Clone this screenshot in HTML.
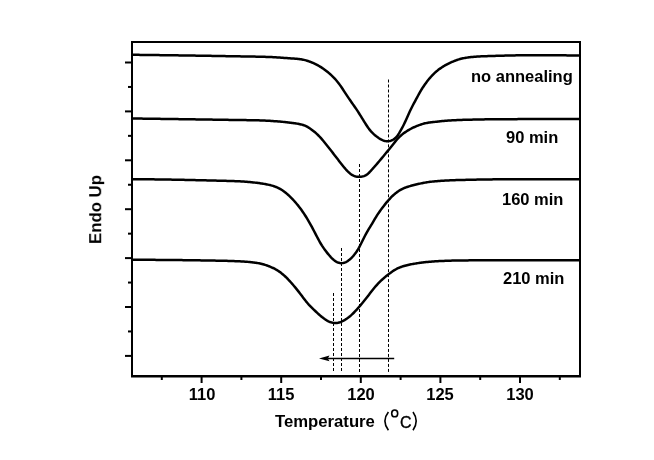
<!DOCTYPE html>
<html><head><meta charset="utf-8"><style>
html,body{margin:0;padding:0;background:#fff;width:654px;height:460px;overflow:hidden}
.lb{position:absolute;font-family:"Liberation Sans",sans-serif;font-weight:bold;font-size:16.5px;line-height:20px;color:#000;white-space:pre;will-change:transform}
svg{position:absolute;left:0;top:0}
</style></head><body>
<svg width="654" height="460" viewBox="0 0 654 460">
<g stroke="#000" stroke-width="1" fill="none" stroke-dasharray="3 2">
<line x1="388.5" y1="79.5" x2="388.5" y2="373" stroke-dasharray="3 1.99"/>
<line x1="359.5" y1="164" x2="359.5" y2="373"/>
<line x1="341.5" y1="248" x2="341.5" y2="373"/>
<line x1="333.5" y1="291" x2="333.5" y2="373" stroke-dashoffset="3"/>
</g>
<line x1="328" y1="358.5" x2="394.2" y2="358.5" stroke="#000" stroke-width="1.3"/>
<path d="M319,358.5 L329.5,355.6 L327.8,358.5 L329.5,361.2 Z" fill="#000"/>
<g stroke="#000" stroke-width="2.5" fill="none" stroke-linejoin="round" stroke-linecap="butt">
<path d="M133.0,54.81 L134.0,54.82 L135.0,54.83 L136.0,54.84 L137.0,54.85 L138.0,54.86 L139.0,54.87 L140.0,54.88 L141.0,54.89 L142.0,54.90 L143.0,54.92 L144.0,54.93 L145.0,54.94 L146.0,54.95 L147.0,54.96 L148.0,54.98 L149.0,54.99 L150.0,55.00 L151.0,55.01 L152.0,55.03 L153.0,55.04 L154.0,55.05 L155.0,55.06 L156.0,55.08 L157.0,55.09 L158.0,55.10 L159.0,55.11 L160.0,55.13 L161.0,55.14 L162.0,55.15 L163.0,55.17 L164.0,55.18 L165.0,55.19 L166.0,55.21 L167.0,55.22 L168.0,55.23 L169.0,55.25 L170.0,55.26 L171.0,55.27 L172.0,55.29 L173.0,55.30 L174.0,55.32 L175.0,55.33 L176.0,55.34 L177.0,55.36 L178.0,55.37 L179.0,55.39 L180.0,55.40 L181.0,55.41 L182.0,55.43 L183.0,55.44 L184.0,55.46 L185.0,55.47 L186.0,55.49 L187.0,55.50 L188.0,55.52 L189.0,55.53 L190.0,55.55 L191.0,55.56 L192.0,55.58 L193.0,55.59 L194.0,55.61 L195.0,55.62 L196.0,55.64 L197.0,55.65 L198.0,55.67 L199.0,55.68 L200.0,55.70 L201.0,55.71 L202.0,55.73 L203.0,55.75 L204.0,55.76 L205.0,55.78 L206.0,55.79 L207.0,55.81 L208.0,55.83 L209.0,55.84 L210.0,55.86 L211.0,55.87 L212.0,55.89 L213.0,55.91 L214.0,55.92 L215.0,55.94 L216.0,55.96 L217.0,55.97 L218.0,55.99 L219.0,56.01 L220.0,56.03 L221.0,56.04 L222.0,56.06 L223.0,56.08 L224.0,56.09 L225.0,56.11 L226.0,56.13 L227.0,56.15 L228.0,56.16 L229.0,56.18 L230.0,56.20 L231.0,56.22 L232.0,56.23 L233.0,56.25 L234.0,56.27 L235.0,56.28 L236.0,56.30 L237.0,56.32 L238.0,56.33 L239.0,56.35 L240.0,56.36 L241.0,56.38 L242.0,56.39 L243.0,56.41 L244.0,56.43 L245.0,56.44 L246.0,56.46 L247.0,56.47 L248.0,56.49 L249.0,56.51 L250.0,56.53 L251.0,56.54 L252.0,56.56 L253.0,56.58 L254.0,56.60 L255.0,56.62 L256.0,56.64 L257.0,56.66 L258.0,56.68 L259.0,56.70 L260.0,56.73 L261.0,56.75 L262.0,56.77 L263.0,56.80 L264.0,56.82 L265.0,56.85 L266.0,56.88 L267.0,56.91 L268.0,56.94 L269.0,56.98 L270.0,57.01 L271.0,57.05 L272.0,57.10 L273.0,57.14 L274.0,57.20 L275.0,57.25 L276.0,57.32 L277.0,57.38 L278.0,57.45 L279.0,57.52 L280.0,57.59 L281.0,57.67 L282.0,57.74 L283.0,57.82 L284.0,57.90 L285.0,57.97 L286.0,58.05 L287.0,58.12 L288.0,58.19 L289.0,58.26 L290.0,58.33 L291.0,58.40 L292.0,58.46 L293.0,58.53 L294.0,58.60 L295.0,58.67 L296.0,58.75 L297.0,58.84 L298.0,58.94 L299.0,59.05 L300.0,59.18 L301.0,59.33 L302.0,59.50 L303.0,59.69 L304.0,59.90 L305.0,60.14 L306.0,60.41 L307.0,60.70 L308.0,61.02 L309.0,61.36 L310.0,61.73 L311.0,62.12 L312.0,62.53 L313.0,62.97 L314.0,63.42 L315.0,63.89 L316.0,64.38 L317.0,64.90 L318.0,65.43 L319.0,65.99 L320.0,66.58 L321.0,67.19 L322.0,67.83 L323.0,68.50 L324.0,69.21 L325.0,69.94 L326.0,70.70 L327.0,71.50 L328.0,72.32 L329.0,73.17 L330.0,74.04 L331.0,74.94 L332.0,75.87 L333.0,76.84 L334.0,77.85 L335.0,78.91 L336.0,80.02 L337.0,81.20 L338.0,82.44 L339.0,83.76 L340.0,85.13 L341.0,86.55 L342.0,88.03 L343.0,89.53 L344.0,91.07 L345.0,92.61 L346.0,94.15 L347.0,95.67 L348.0,97.16 L349.0,98.63 L350.0,100.08 L351.0,101.51 L352.0,102.93 L353.0,104.35 L354.0,105.77 L355.0,107.20 L356.0,108.66 L357.0,110.15 L358.0,111.68 L359.0,113.24 L360.0,114.83 L361.0,116.44 L362.0,118.07 L363.0,119.70 L364.0,121.33 L365.0,122.94 L366.0,124.52 L367.0,126.05 L368.0,127.51 L369.0,128.89 L370.0,130.18 L371.0,131.36 L372.0,132.45 L373.0,133.45 L374.0,134.38 L375.0,135.24 L376.0,136.06 L377.0,136.83 L378.0,137.55 L379.0,138.24 L380.0,138.88 L381.0,139.46 L382.0,139.97 L383.0,140.40 L384.0,140.73 L385.0,140.98 L386.0,141.14 L387.0,141.22 L388.0,141.21 L389.0,141.12 L390.0,140.93 L391.0,140.64 L392.0,140.25 L393.0,139.75 L394.0,139.13 L395.0,138.36 L396.0,137.40 L397.0,136.25 L398.0,134.89 L399.0,133.37 L400.0,131.71 L401.0,129.97 L402.0,128.14 L403.0,126.23 L404.0,124.22 L405.0,122.13 L406.0,119.94 L407.0,117.70 L408.0,115.44 L409.0,113.20 L410.0,111.03 L411.0,108.95 L412.0,106.96 L413.0,105.04 L414.0,103.17 L415.0,101.32 L416.0,99.46 L417.0,97.59 L418.0,95.73 L419.0,93.89 L420.0,92.09 L421.0,90.37 L422.0,88.74 L423.0,87.18 L424.0,85.70 L425.0,84.29 L426.0,82.92 L427.0,81.61 L428.0,80.33 L429.0,79.09 L430.0,77.89 L431.0,76.74 L432.0,75.63 L433.0,74.58 L434.0,73.59 L435.0,72.65 L436.0,71.76 L437.0,70.91 L438.0,70.11 L439.0,69.35 L440.0,68.62 L441.0,67.92 L442.0,67.25 L443.0,66.62 L444.0,66.01 L445.0,65.42 L446.0,64.86 L447.0,64.32 L448.0,63.81 L449.0,63.32 L450.0,62.85 L451.0,62.40 L452.0,61.96 L453.0,61.53 L454.0,61.12 L455.0,60.72 L456.0,60.34 L457.0,59.98 L458.0,59.64 L459.0,59.33 L460.0,59.04 L461.0,58.77 L462.0,58.54 L463.0,58.32 L464.0,58.12 L465.0,57.94 L466.0,57.77 L467.0,57.61 L468.0,57.47 L469.0,57.33 L470.0,57.21 L471.0,57.09 L472.0,56.98 L473.0,56.89 L474.0,56.80 L475.0,56.72 L476.0,56.65 L477.0,56.59 L478.0,56.53 L479.0,56.47 L480.0,56.42 L481.0,56.37 L482.0,56.32 L483.0,56.28 L484.0,56.24 L485.0,56.20 L486.0,56.16 L487.0,56.13 L488.0,56.09 L489.0,56.06 L490.0,56.03 L491.0,56.00 L492.0,55.97 L493.0,55.94 L494.0,55.91 L495.0,55.89 L496.0,55.86 L497.0,55.83 L498.0,55.80 L499.0,55.77 L500.0,55.75 L501.0,55.72 L502.0,55.69 L503.0,55.66 L504.0,55.64 L505.0,55.61 L506.0,55.59 L507.0,55.56 L508.0,55.54 L509.0,55.51 L510.0,55.49 L511.0,55.47 L512.0,55.44 L513.0,55.42 L514.0,55.40 L515.0,55.38 L516.0,55.36 L517.0,55.35 L518.0,55.33 L519.0,55.31 L520.0,55.30 L521.0,55.28 L522.0,55.27 L523.0,55.26 L524.0,55.25 L525.0,55.24 L526.0,55.23 L527.0,55.22 L528.0,55.22 L529.0,55.21 L530.0,55.21 L531.0,55.20 L532.0,55.20 L533.0,55.20 L534.0,55.20 L535.0,55.20 L536.0,55.20 L537.0,55.20 L538.0,55.20 L539.0,55.20 L540.0,55.21 L541.0,55.21 L542.0,55.21 L543.0,55.21 L544.0,55.21 L545.0,55.21 L546.0,55.22 L547.0,55.22 L548.0,55.22 L549.0,55.23 L550.0,55.23 L551.0,55.24 L552.0,55.24 L553.0,55.25 L554.0,55.25 L555.0,55.26 L556.0,55.27 L557.0,55.27 L558.0,55.28 L559.0,55.29 L560.0,55.30 L561.0,55.31 L562.0,55.32 L563.0,55.33 L564.0,55.34 L565.0,55.35 L566.0,55.37 L567.0,55.38 L568.0,55.40 L569.0,55.41 L570.0,55.43 L571.0,55.44 L572.0,55.46 L573.0,55.48 L574.0,55.50 L575.0,55.51 L576.0,55.53 L577.0,55.55 L578.0,55.57 L579.0,55.58"/>
<path d="M133.0,118.51 L134.0,118.52 L135.0,118.53 L136.0,118.54 L137.0,118.55 L138.0,118.57 L139.0,118.58 L140.0,118.59 L141.0,118.61 L142.0,118.62 L143.0,118.63 L144.0,118.65 L145.0,118.66 L146.0,118.67 L147.0,118.69 L148.0,118.70 L149.0,118.71 L150.0,118.73 L151.0,118.74 L152.0,118.75 L153.0,118.77 L154.0,118.78 L155.0,118.79 L156.0,118.81 L157.0,118.82 L158.0,118.84 L159.0,118.85 L160.0,118.86 L161.0,118.88 L162.0,118.89 L163.0,118.91 L164.0,118.92 L165.0,118.93 L166.0,118.95 L167.0,118.96 L168.0,118.98 L169.0,118.99 L170.0,119.00 L171.0,119.02 L172.0,119.03 L173.0,119.05 L174.0,119.06 L175.0,119.08 L176.0,119.09 L177.0,119.10 L178.0,119.12 L179.0,119.13 L180.0,119.15 L181.0,119.16 L182.0,119.18 L183.0,119.19 L184.0,119.21 L185.0,119.22 L186.0,119.24 L187.0,119.25 L188.0,119.26 L189.0,119.28 L190.0,119.29 L191.0,119.31 L192.0,119.32 L193.0,119.34 L194.0,119.35 L195.0,119.37 L196.0,119.38 L197.0,119.40 L198.0,119.41 L199.0,119.43 L200.0,119.44 L201.0,119.46 L202.0,119.47 L203.0,119.49 L204.0,119.50 L205.0,119.52 L206.0,119.53 L207.0,119.55 L208.0,119.56 L209.0,119.58 L210.0,119.59 L211.0,119.61 L212.0,119.62 L213.0,119.64 L214.0,119.65 L215.0,119.67 L216.0,119.68 L217.0,119.70 L218.0,119.72 L219.0,119.73 L220.0,119.75 L221.0,119.76 L222.0,119.78 L223.0,119.79 L224.0,119.81 L225.0,119.82 L226.0,119.84 L227.0,119.85 L228.0,119.87 L229.0,119.88 L230.0,119.90 L231.0,119.91 L232.0,119.93 L233.0,119.94 L234.0,119.96 L235.0,119.97 L236.0,119.98 L237.0,120.00 L238.0,120.01 L239.0,120.02 L240.0,120.04 L241.0,120.05 L242.0,120.06 L243.0,120.08 L244.0,120.09 L245.0,120.10 L246.0,120.12 L247.0,120.13 L248.0,120.15 L249.0,120.16 L250.0,120.18 L251.0,120.20 L252.0,120.21 L253.0,120.23 L254.0,120.25 L255.0,120.27 L256.0,120.29 L257.0,120.31 L258.0,120.34 L259.0,120.36 L260.0,120.39 L261.0,120.42 L262.0,120.46 L263.0,120.49 L264.0,120.53 L265.0,120.58 L266.0,120.63 L267.0,120.68 L268.0,120.74 L269.0,120.80 L270.0,120.86 L271.0,120.92 L272.0,120.99 L273.0,121.06 L274.0,121.14 L275.0,121.21 L276.0,121.29 L277.0,121.36 L278.0,121.44 L279.0,121.53 L280.0,121.61 L281.0,121.70 L282.0,121.79 L283.0,121.88 L284.0,121.99 L285.0,122.09 L286.0,122.20 L287.0,122.31 L288.0,122.43 L289.0,122.55 L290.0,122.68 L291.0,122.80 L292.0,122.93 L293.0,123.06 L294.0,123.20 L295.0,123.34 L296.0,123.48 L297.0,123.64 L298.0,123.80 L299.0,123.98 L300.0,124.18 L301.0,124.41 L302.0,124.66 L303.0,124.95 L304.0,125.29 L305.0,125.68 L306.0,126.13 L307.0,126.64 L308.0,127.20 L309.0,127.81 L310.0,128.47 L311.0,129.16 L312.0,129.89 L313.0,130.66 L314.0,131.45 L315.0,132.28 L316.0,133.14 L317.0,134.05 L318.0,135.00 L319.0,136.01 L320.0,137.08 L321.0,138.19 L322.0,139.35 L323.0,140.54 L324.0,141.76 L325.0,142.99 L326.0,144.24 L327.0,145.49 L328.0,146.75 L329.0,148.01 L330.0,149.27 L331.0,150.54 L332.0,151.82 L333.0,153.11 L334.0,154.40 L335.0,155.70 L336.0,157.00 L337.0,158.30 L338.0,159.61 L339.0,160.91 L340.0,162.21 L341.0,163.50 L342.0,164.78 L343.0,166.03 L344.0,167.24 L345.0,168.41 L346.0,169.53 L347.0,170.59 L348.0,171.61 L349.0,172.55 L350.0,173.43 L351.0,174.21 L352.0,174.88 L353.0,175.44 L354.0,175.88 L355.0,176.22 L356.0,176.47 L357.0,176.65 L358.0,176.76 L359.0,176.81 L360.0,176.80 L361.0,176.73 L362.0,176.59 L363.0,176.39 L364.0,176.09 L365.0,175.68 L366.0,175.15 L367.0,174.48 L368.0,173.67 L369.0,172.75 L370.0,171.73 L371.0,170.65 L372.0,169.53 L373.0,168.40 L374.0,167.27 L375.0,166.13 L376.0,164.98 L377.0,163.83 L378.0,162.66 L379.0,161.48 L380.0,160.30 L381.0,159.11 L382.0,157.91 L383.0,156.71 L384.0,155.50 L385.0,154.30 L386.0,153.08 L387.0,151.87 L388.0,150.66 L389.0,149.44 L390.0,148.22 L391.0,146.98 L392.0,145.73 L393.0,144.45 L394.0,143.16 L395.0,141.88 L396.0,140.63 L397.0,139.44 L398.0,138.33 L399.0,137.31 L400.0,136.36 L401.0,135.47 L402.0,134.64 L403.0,133.85 L404.0,133.10 L405.0,132.38 L406.0,131.69 L407.0,131.04 L408.0,130.42 L409.0,129.83 L410.0,129.27 L411.0,128.73 L412.0,128.21 L413.0,127.72 L414.0,127.24 L415.0,126.79 L416.0,126.36 L417.0,125.95 L418.0,125.56 L419.0,125.19 L420.0,124.82 L421.0,124.48 L422.0,124.15 L423.0,123.84 L424.0,123.57 L425.0,123.32 L426.0,123.11 L427.0,122.92 L428.0,122.76 L429.0,122.61 L430.0,122.47 L431.0,122.35 L432.0,122.23 L433.0,122.11 L434.0,121.99 L435.0,121.87 L436.0,121.76 L437.0,121.64 L438.0,121.53 L439.0,121.42 L440.0,121.31 L441.0,121.21 L442.0,121.11 L443.0,121.01 L444.0,120.91 L445.0,120.82 L446.0,120.74 L447.0,120.66 L448.0,120.58 L449.0,120.51 L450.0,120.45 L451.0,120.39 L452.0,120.33 L453.0,120.28 L454.0,120.23 L455.0,120.18 L456.0,120.14 L457.0,120.09 L458.0,120.05 L459.0,120.01 L460.0,119.97 L461.0,119.94 L462.0,119.90 L463.0,119.87 L464.0,119.84 L465.0,119.81 L466.0,119.78 L467.0,119.75 L468.0,119.73 L469.0,119.70 L470.0,119.68 L471.0,119.65 L472.0,119.63 L473.0,119.61 L474.0,119.58 L475.0,119.56 L476.0,119.54 L477.0,119.52 L478.0,119.50 L479.0,119.48 L480.0,119.46 L481.0,119.44 L482.0,119.42 L483.0,119.40 L484.0,119.39 L485.0,119.37 L486.0,119.35 L487.0,119.34 L488.0,119.32 L489.0,119.31 L490.0,119.30 L491.0,119.28 L492.0,119.27 L493.0,119.26 L494.0,119.25 L495.0,119.24 L496.0,119.23 L497.0,119.22 L498.0,119.21 L499.0,119.21 L500.0,119.20 L501.0,119.20 L502.0,119.19 L503.0,119.19 L504.0,119.18 L505.0,119.18 L506.0,119.17 L507.0,119.17 L508.0,119.16 L509.0,119.16 L510.0,119.15 L511.0,119.15 L512.0,119.15 L513.0,119.14 L514.0,119.14 L515.0,119.13 L516.0,119.13 L517.0,119.13 L518.0,119.12 L519.0,119.12 L520.0,119.11 L521.0,119.11 L522.0,119.11 L523.0,119.10 L524.0,119.10 L525.0,119.10 L526.0,119.09 L527.0,119.09 L528.0,119.09 L529.0,119.08 L530.0,119.08 L531.0,119.08 L532.0,119.07 L533.0,119.07 L534.0,119.07 L535.0,119.06 L536.0,119.06 L537.0,119.06 L538.0,119.06 L539.0,119.05 L540.0,119.05 L541.0,119.05 L542.0,119.05 L543.0,119.04 L544.0,119.04 L545.0,119.04 L546.0,119.04 L547.0,119.03 L548.0,119.03 L549.0,119.03 L550.0,119.03 L551.0,119.03 L552.0,119.02 L553.0,119.02 L554.0,119.02 L555.0,119.02 L556.0,119.02 L557.0,119.02 L558.0,119.02 L559.0,119.01 L560.0,119.01 L561.0,119.01 L562.0,119.01 L563.0,119.01 L564.0,119.01 L565.0,119.01 L566.0,119.01 L567.0,119.01 L568.0,119.00 L569.0,119.00 L570.0,119.00 L571.0,119.00 L572.0,119.00 L573.0,119.00 L574.0,119.00 L575.0,119.00 L576.0,119.00 L577.0,119.00 L578.0,119.00 L579.0,119.00"/>
<path d="M133.0,179.20 L134.0,179.21 L135.0,179.21 L136.0,179.21 L137.0,179.22 L138.0,179.22 L139.0,179.23 L140.0,179.24 L141.0,179.24 L142.0,179.25 L143.0,179.26 L144.0,179.26 L145.0,179.27 L146.0,179.28 L147.0,179.29 L148.0,179.30 L149.0,179.31 L150.0,179.32 L151.0,179.33 L152.0,179.34 L153.0,179.35 L154.0,179.37 L155.0,179.38 L156.0,179.39 L157.0,179.40 L158.0,179.42 L159.0,179.43 L160.0,179.44 L161.0,179.46 L162.0,179.47 L163.0,179.49 L164.0,179.50 L165.0,179.52 L166.0,179.53 L167.0,179.55 L168.0,179.57 L169.0,179.58 L170.0,179.60 L171.0,179.62 L172.0,179.63 L173.0,179.65 L174.0,179.67 L175.0,179.69 L176.0,179.71 L177.0,179.73 L178.0,179.75 L179.0,179.77 L180.0,179.78 L181.0,179.80 L182.0,179.82 L183.0,179.84 L184.0,179.87 L185.0,179.89 L186.0,179.91 L187.0,179.93 L188.0,179.95 L189.0,179.97 L190.0,179.99 L191.0,180.01 L192.0,180.04 L193.0,180.06 L194.0,180.08 L195.0,180.10 L196.0,180.13 L197.0,180.15 L198.0,180.17 L199.0,180.19 L200.0,180.22 L201.0,180.24 L202.0,180.26 L203.0,180.29 L204.0,180.31 L205.0,180.33 L206.0,180.36 L207.0,180.38 L208.0,180.41 L209.0,180.43 L210.0,180.46 L211.0,180.48 L212.0,180.50 L213.0,180.53 L214.0,180.55 L215.0,180.58 L216.0,180.60 L217.0,180.63 L218.0,180.65 L219.0,180.68 L220.0,180.70 L221.0,180.73 L222.0,180.75 L223.0,180.78 L224.0,180.80 L225.0,180.83 L226.0,180.86 L227.0,180.89 L228.0,180.91 L229.0,180.94 L230.0,180.98 L231.0,181.01 L232.0,181.04 L233.0,181.08 L234.0,181.11 L235.0,181.15 L236.0,181.19 L237.0,181.23 L238.0,181.27 L239.0,181.32 L240.0,181.36 L241.0,181.41 L242.0,181.46 L243.0,181.52 L244.0,181.58 L245.0,181.65 L246.0,181.72 L247.0,181.80 L248.0,181.89 L249.0,181.98 L250.0,182.08 L251.0,182.18 L252.0,182.29 L253.0,182.40 L254.0,182.51 L255.0,182.62 L256.0,182.74 L257.0,182.86 L258.0,182.99 L259.0,183.11 L260.0,183.25 L261.0,183.39 L262.0,183.54 L263.0,183.69 L264.0,183.86 L265.0,184.03 L266.0,184.22 L267.0,184.42 L268.0,184.63 L269.0,184.85 L270.0,185.09 L271.0,185.34 L272.0,185.61 L273.0,185.91 L274.0,186.23 L275.0,186.58 L276.0,186.96 L277.0,187.38 L278.0,187.84 L279.0,188.34 L280.0,188.87 L281.0,189.44 L282.0,190.06 L283.0,190.72 L284.0,191.42 L285.0,192.18 L286.0,192.98 L287.0,193.83 L288.0,194.71 L289.0,195.64 L290.0,196.60 L291.0,197.58 L292.0,198.60 L293.0,199.65 L294.0,200.73 L295.0,201.84 L296.0,202.99 L297.0,204.18 L298.0,205.41 L299.0,206.68 L300.0,207.99 L301.0,209.34 L302.0,210.74 L303.0,212.18 L304.0,213.67 L305.0,215.20 L306.0,216.78 L307.0,218.40 L308.0,220.07 L309.0,221.79 L310.0,223.56 L311.0,225.37 L312.0,227.21 L313.0,229.09 L314.0,230.98 L315.0,232.90 L316.0,234.82 L317.0,236.75 L318.0,238.65 L319.0,240.50 L320.0,242.29 L321.0,244.00 L322.0,245.62 L323.0,247.14 L324.0,248.59 L325.0,249.98 L326.0,251.32 L327.0,252.61 L328.0,253.85 L329.0,255.05 L330.0,256.20 L331.0,257.29 L332.0,258.31 L333.0,259.27 L334.0,260.13 L335.0,260.90 L336.0,261.57 L337.0,262.11 L338.0,262.53 L339.0,262.84 L340.0,263.04 L341.0,263.14 L342.0,263.12 L343.0,263.00 L344.0,262.78 L345.0,262.46 L346.0,262.03 L347.0,261.50 L348.0,260.86 L349.0,260.12 L350.0,259.27 L351.0,258.34 L352.0,257.33 L353.0,256.24 L354.0,255.07 L355.0,253.81 L356.0,252.44 L357.0,250.96 L358.0,249.35 L359.0,247.61 L360.0,245.75 L361.0,243.79 L362.0,241.77 L363.0,239.73 L364.0,237.71 L365.0,235.74 L366.0,233.85 L367.0,232.05 L368.0,230.33 L369.0,228.68 L370.0,227.07 L371.0,225.45 L372.0,223.81 L373.0,222.12 L374.0,220.41 L375.0,218.70 L376.0,217.03 L377.0,215.43 L378.0,213.90 L379.0,212.43 L380.0,211.02 L381.0,209.64 L382.0,208.29 L383.0,206.96 L384.0,205.64 L385.0,204.36 L386.0,203.11 L387.0,201.90 L388.0,200.73 L389.0,199.61 L390.0,198.53 L391.0,197.48 L392.0,196.48 L393.0,195.51 L394.0,194.59 L395.0,193.71 L396.0,192.89 L397.0,192.13 L398.0,191.43 L399.0,190.77 L400.0,190.16 L401.0,189.60 L402.0,189.09 L403.0,188.61 L404.0,188.17 L405.0,187.76 L406.0,187.39 L407.0,187.03 L408.0,186.70 L409.0,186.39 L410.0,186.10 L411.0,185.81 L412.0,185.54 L413.0,185.28 L414.0,185.03 L415.0,184.78 L416.0,184.54 L417.0,184.30 L418.0,184.07 L419.0,183.84 L420.0,183.62 L421.0,183.40 L422.0,183.19 L423.0,182.99 L424.0,182.79 L425.0,182.61 L426.0,182.44 L427.0,182.28 L428.0,182.13 L429.0,181.99 L430.0,181.86 L431.0,181.74 L432.0,181.62 L433.0,181.51 L434.0,181.41 L435.0,181.31 L436.0,181.22 L437.0,181.14 L438.0,181.06 L439.0,180.98 L440.0,180.91 L441.0,180.85 L442.0,180.78 L443.0,180.72 L444.0,180.66 L445.0,180.61 L446.0,180.55 L447.0,180.50 L448.0,180.45 L449.0,180.40 L450.0,180.36 L451.0,180.31 L452.0,180.27 L453.0,180.23 L454.0,180.19 L455.0,180.16 L456.0,180.12 L457.0,180.09 L458.0,180.06 L459.0,180.03 L460.0,180.00 L461.0,179.98 L462.0,179.95 L463.0,179.93 L464.0,179.90 L465.0,179.88 L466.0,179.86 L467.0,179.83 L468.0,179.81 L469.0,179.79 L470.0,179.77 L471.0,179.75 L472.0,179.72 L473.0,179.70 L474.0,179.68 L475.0,179.66 L476.0,179.64 L477.0,179.62 L478.0,179.60 L479.0,179.58 L480.0,179.56 L481.0,179.55 L482.0,179.53 L483.0,179.51 L484.0,179.50 L485.0,179.48 L486.0,179.46 L487.0,179.45 L488.0,179.44 L489.0,179.42 L490.0,179.41 L491.0,179.40 L492.0,179.39 L493.0,179.37 L494.0,179.36 L495.0,179.35 L496.0,179.35 L497.0,179.34 L498.0,179.33 L499.0,179.32 L500.0,179.32 L501.0,179.31 L502.0,179.31 L503.0,179.31 L504.0,179.30 L505.0,179.30 L506.0,179.30 L507.0,179.30 L508.0,179.30 L509.0,179.30 L510.0,179.30 L511.0,179.30 L512.0,179.30 L513.0,179.30 L514.0,179.30 L515.0,179.30 L516.0,179.30 L517.0,179.30 L518.0,179.30 L519.0,179.30 L520.0,179.30 L521.0,179.30 L522.0,179.30 L523.0,179.30 L524.0,179.30 L525.0,179.30 L526.0,179.30 L527.0,179.30 L528.0,179.30 L529.0,179.30 L530.0,179.30 L531.0,179.30 L532.0,179.30 L533.0,179.30 L534.0,179.30 L535.0,179.30 L536.0,179.30 L537.0,179.30 L538.0,179.30 L539.0,179.30 L540.0,179.30 L541.0,179.30 L542.0,179.30 L543.0,179.30 L544.0,179.30 L545.0,179.30 L546.0,179.30 L547.0,179.30 L548.0,179.30 L549.0,179.30 L550.0,179.30 L551.0,179.30 L552.0,179.30 L553.0,179.30 L554.0,179.30 L555.0,179.30 L556.0,179.30 L557.0,179.30 L558.0,179.30 L559.0,179.30 L560.0,179.30 L561.0,179.30 L562.0,179.30 L563.0,179.30 L564.0,179.30 L565.0,179.30 L566.0,179.30 L567.0,179.30 L568.0,179.30 L569.0,179.30 L570.0,179.30 L571.0,179.30 L572.0,179.30 L573.0,179.30 L574.0,179.30 L575.0,179.30 L576.0,179.30 L577.0,179.30 L578.0,179.30 L579.0,179.30"/>
<path d="M133.0,259.80 L134.0,259.80 L135.0,259.80 L136.0,259.80 L137.0,259.80 L138.0,259.80 L139.0,259.81 L140.0,259.81 L141.0,259.81 L142.0,259.81 L143.0,259.82 L144.0,259.82 L145.0,259.82 L146.0,259.83 L147.0,259.83 L148.0,259.83 L149.0,259.84 L150.0,259.84 L151.0,259.85 L152.0,259.85 L153.0,259.86 L154.0,259.86 L155.0,259.87 L156.0,259.88 L157.0,259.88 L158.0,259.89 L159.0,259.90 L160.0,259.90 L161.0,259.91 L162.0,259.92 L163.0,259.93 L164.0,259.94 L165.0,259.94 L166.0,259.95 L167.0,259.96 L168.0,259.97 L169.0,259.98 L170.0,259.99 L171.0,260.00 L172.0,260.01 L173.0,260.02 L174.0,260.03 L175.0,260.04 L176.0,260.05 L177.0,260.06 L178.0,260.07 L179.0,260.08 L180.0,260.10 L181.0,260.11 L182.0,260.12 L183.0,260.13 L184.0,260.15 L185.0,260.16 L186.0,260.17 L187.0,260.18 L188.0,260.20 L189.0,260.21 L190.0,260.22 L191.0,260.24 L192.0,260.25 L193.0,260.27 L194.0,260.28 L195.0,260.29 L196.0,260.31 L197.0,260.32 L198.0,260.34 L199.0,260.35 L200.0,260.37 L201.0,260.38 L202.0,260.40 L203.0,260.41 L204.0,260.43 L205.0,260.45 L206.0,260.46 L207.0,260.48 L208.0,260.49 L209.0,260.51 L210.0,260.53 L211.0,260.54 L212.0,260.56 L213.0,260.58 L214.0,260.60 L215.0,260.61 L216.0,260.63 L217.0,260.65 L218.0,260.67 L219.0,260.68 L220.0,260.70 L221.0,260.72 L222.0,260.74 L223.0,260.76 L224.0,260.79 L225.0,260.81 L226.0,260.84 L227.0,260.86 L228.0,260.89 L229.0,260.92 L230.0,260.95 L231.0,260.98 L232.0,261.02 L233.0,261.06 L234.0,261.09 L235.0,261.13 L236.0,261.17 L237.0,261.22 L238.0,261.26 L239.0,261.31 L240.0,261.36 L241.0,261.41 L242.0,261.46 L243.0,261.52 L244.0,261.58 L245.0,261.65 L246.0,261.72 L247.0,261.79 L248.0,261.88 L249.0,261.97 L250.0,262.07 L251.0,262.17 L252.0,262.28 L253.0,262.40 L254.0,262.52 L255.0,262.65 L256.0,262.79 L257.0,262.94 L258.0,263.11 L259.0,263.28 L260.0,263.48 L261.0,263.70 L262.0,263.94 L263.0,264.21 L264.0,264.51 L265.0,264.83 L266.0,265.18 L267.0,265.53 L268.0,265.91 L269.0,266.29 L270.0,266.69 L271.0,267.11 L272.0,267.54 L273.0,267.99 L274.0,268.47 L275.0,268.98 L276.0,269.53 L277.0,270.11 L278.0,270.74 L279.0,271.41 L280.0,272.12 L281.0,272.87 L282.0,273.67 L283.0,274.50 L284.0,275.37 L285.0,276.28 L286.0,277.23 L287.0,278.23 L288.0,279.25 L289.0,280.32 L290.0,281.41 L291.0,282.52 L292.0,283.65 L293.0,284.80 L294.0,285.97 L295.0,287.16 L296.0,288.37 L297.0,289.60 L298.0,290.85 L299.0,292.12 L300.0,293.42 L301.0,294.75 L302.0,296.09 L303.0,297.43 L304.0,298.77 L305.0,300.07 L306.0,301.34 L307.0,302.55 L308.0,303.71 L309.0,304.82 L310.0,305.88 L311.0,306.91 L312.0,307.90 L313.0,308.87 L314.0,309.83 L315.0,310.78 L316.0,311.73 L317.0,312.66 L318.0,313.57 L319.0,314.47 L320.0,315.34 L321.0,316.19 L322.0,317.01 L323.0,317.79 L324.0,318.55 L325.0,319.26 L326.0,319.93 L327.0,320.55 L328.0,321.10 L329.0,321.57 L330.0,321.97 L331.0,322.30 L332.0,322.56 L333.0,322.77 L334.0,322.92 L335.0,323.01 L336.0,323.03 L337.0,322.97 L338.0,322.82 L339.0,322.59 L340.0,322.27 L341.0,321.88 L342.0,321.43 L343.0,320.93 L344.0,320.38 L345.0,319.80 L346.0,319.17 L347.0,318.50 L348.0,317.78 L349.0,317.01 L350.0,316.19 L351.0,315.33 L352.0,314.43 L353.0,313.48 L354.0,312.49 L355.0,311.46 L356.0,310.39 L357.0,309.29 L358.0,308.16 L359.0,307.01 L360.0,305.83 L361.0,304.65 L362.0,303.45 L363.0,302.23 L364.0,301.00 L365.0,299.76 L366.0,298.50 L367.0,297.23 L368.0,295.95 L369.0,294.66 L370.0,293.36 L371.0,292.06 L372.0,290.77 L373.0,289.50 L374.0,288.26 L375.0,287.06 L376.0,285.90 L377.0,284.79 L378.0,283.71 L379.0,282.68 L380.0,281.68 L381.0,280.71 L382.0,279.77 L383.0,278.85 L384.0,277.96 L385.0,277.10 L386.0,276.26 L387.0,275.44 L388.0,274.65 L389.0,273.88 L390.0,273.14 L391.0,272.42 L392.0,271.73 L393.0,271.06 L394.0,270.41 L395.0,269.80 L396.0,269.23 L397.0,268.70 L398.0,268.22 L399.0,267.77 L400.0,267.37 L401.0,266.99 L402.0,266.64 L403.0,266.31 L404.0,266.01 L405.0,265.72 L406.0,265.45 L407.0,265.20 L408.0,264.96 L409.0,264.74 L410.0,264.53 L411.0,264.33 L412.0,264.14 L413.0,263.96 L414.0,263.78 L415.0,263.61 L416.0,263.44 L417.0,263.28 L418.0,263.13 L419.0,262.98 L420.0,262.83 L421.0,262.69 L422.0,262.56 L423.0,262.43 L424.0,262.31 L425.0,262.20 L426.0,262.09 L427.0,261.98 L428.0,261.89 L429.0,261.80 L430.0,261.71 L431.0,261.64 L432.0,261.56 L433.0,261.49 L434.0,261.42 L435.0,261.36 L436.0,261.30 L437.0,261.24 L438.0,261.18 L439.0,261.12 L440.0,261.07 L441.0,261.02 L442.0,260.97 L443.0,260.92 L444.0,260.88 L445.0,260.83 L446.0,260.80 L447.0,260.76 L448.0,260.73 L449.0,260.70 L450.0,260.67 L451.0,260.64 L452.0,260.62 L453.0,260.60 L454.0,260.58 L455.0,260.56 L456.0,260.54 L457.0,260.53 L458.0,260.51 L459.0,260.49 L460.0,260.48 L461.0,260.46 L462.0,260.45 L463.0,260.44 L464.0,260.42 L465.0,260.41 L466.0,260.40 L467.0,260.39 L468.0,260.38 L469.0,260.37 L470.0,260.36 L471.0,260.35 L472.0,260.34 L473.0,260.34 L474.0,260.33 L475.0,260.32 L476.0,260.32 L477.0,260.31 L478.0,260.31 L479.0,260.30 L480.0,260.30 L481.0,260.30 L482.0,260.30 L483.0,260.29 L484.0,260.29 L485.0,260.29 L486.0,260.29 L487.0,260.29 L488.0,260.28 L489.0,260.28 L490.0,260.28 L491.0,260.28 L492.0,260.28 L493.0,260.27 L494.0,260.27 L495.0,260.27 L496.0,260.27 L497.0,260.27 L498.0,260.26 L499.0,260.26 L500.0,260.26 L501.0,260.26 L502.0,260.26 L503.0,260.26 L504.0,260.26 L505.0,260.25 L506.0,260.25 L507.0,260.25 L508.0,260.25 L509.0,260.25 L510.0,260.25 L511.0,260.24 L512.0,260.24 L513.0,260.24 L514.0,260.24 L515.0,260.24 L516.0,260.24 L517.0,260.24 L518.0,260.24 L519.0,260.23 L520.0,260.23 L521.0,260.23 L522.0,260.23 L523.0,260.23 L524.0,260.23 L525.0,260.23 L526.0,260.23 L527.0,260.23 L528.0,260.22 L529.0,260.22 L530.0,260.22 L531.0,260.22 L532.0,260.22 L533.0,260.22 L534.0,260.22 L535.0,260.22 L536.0,260.22 L537.0,260.22 L538.0,260.22 L539.0,260.21 L540.0,260.21 L541.0,260.21 L542.0,260.21 L543.0,260.21 L544.0,260.21 L545.0,260.21 L546.0,260.21 L547.0,260.21 L548.0,260.21 L549.0,260.21 L550.0,260.21 L551.0,260.21 L552.0,260.21 L553.0,260.21 L554.0,260.21 L555.0,260.21 L556.0,260.20 L557.0,260.20 L558.0,260.20 L559.0,260.20 L560.0,260.20 L561.0,260.20 L562.0,260.20 L563.0,260.20 L564.0,260.20 L565.0,260.20 L566.0,260.20 L567.0,260.20 L568.0,260.20 L569.0,260.20 L570.0,260.20 L571.0,260.20 L572.0,260.20 L573.0,260.20 L574.0,260.20 L575.0,260.20 L576.0,260.20 L577.0,260.20 L578.0,260.20 L579.0,260.20"/>
</g>
<rect x="132" y="42" width="448" height="334" stroke="#000" stroke-width="2" fill="none"/><line x1="131" y1="376.3" x2="581" y2="376.3" stroke="#000" stroke-width="2.4"/>
<g stroke="#000" stroke-width="2"><line x1="125" y1="62.50" x2="133" y2="62.50"/><line x1="128" y1="86.95" x2="133" y2="86.95"/><line x1="125" y1="111.40" x2="133" y2="111.40"/><line x1="128" y1="135.85" x2="133" y2="135.85"/><line x1="125" y1="160.30" x2="133" y2="160.30"/><line x1="128" y1="184.75" x2="133" y2="184.75"/><line x1="125" y1="209.20" x2="133" y2="209.20"/><line x1="128" y1="233.65" x2="133" y2="233.65"/><line x1="125" y1="258.10" x2="133" y2="258.10"/><line x1="128" y1="282.55" x2="133" y2="282.55"/><line x1="125" y1="307.00" x2="133" y2="307.00"/><line x1="128" y1="331.45" x2="133" y2="331.45"/><line x1="125" y1="355.90" x2="133" y2="355.90"/><line x1="161.80" y1="375" x2="161.80" y2="380"/><line x1="201.60" y1="375" x2="201.60" y2="383"/><line x1="241.40" y1="375" x2="241.40" y2="380"/><line x1="281.20" y1="375" x2="281.20" y2="383"/><line x1="321.00" y1="375" x2="321.00" y2="380"/><line x1="360.80" y1="375" x2="360.80" y2="383"/><line x1="400.60" y1="375" x2="400.60" y2="380"/><line x1="440.40" y1="375" x2="440.40" y2="383"/><line x1="480.20" y1="375" x2="480.20" y2="380"/><line x1="520.00" y1="375" x2="520.00" y2="383"/><line x1="559.80" y1="375" x2="559.80" y2="380"/></g>
<path d="M388.4,412 Q381.4,421 388.4,430.3" stroke="#000" stroke-width="1.6" fill="none"/>
<path d="M413,412 Q419.4,421 413,430.3" stroke="#000" stroke-width="1.6" fill="none"/>
<ellipse cx="394.7" cy="413.4" rx="3.0" ry="3.4" stroke="#000" stroke-width="1.6" fill="none"/>
</svg>
<div class="lb" style="left:161.6px;width:80px;top:384px;text-align:center">110</div><div class="lb" style="left:241.2px;width:80px;top:384px;text-align:center">115</div><div class="lb" style="left:320.8px;width:80px;top:384px;text-align:center">120</div><div class="lb" style="left:400.4px;width:80px;top:384px;text-align:center">125</div><div class="lb" style="left:480.0px;width:80px;top:384px;text-align:center">130</div>
<div class="lb" style="left:471px;top:66px">no annealing</div>
<div class="lb" style="left:506px;top:127px">90 min</div>
<div class="lb" style="left:502px;top:189px">160 min</div>
<div class="lb" style="left:503px;top:268px">210 min</div>
<div class="lb" style="left:275.3px;top:412.3px;font-size:16.7px">Temperature</div>
<div class="lb" style="left:400px;top:412.6px;font-weight:normal;font-size:16px;-webkit-text-stroke:0.35px #000">C</div>
<div class="lb" style="left:0;top:0;transform-origin:0 0;transform:translate(86.2px,244px) rotate(-90deg);font-size:16.8px">Endo Up</div>
</body></html>
